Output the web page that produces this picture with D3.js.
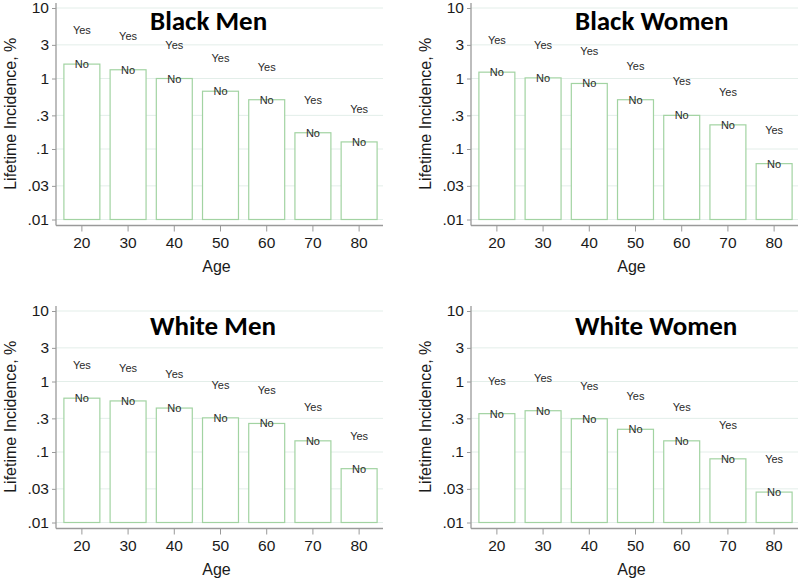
<!DOCTYPE html>
<html><head><meta charset="utf-8">
<script src="https://cdn.jsdelivr.net/npm/d3@7"></script>
<style>body{margin:0;background:#fff}svg{display:block}</style>
</head><body><svg id="c" width="800" height="578"></svg>
<script>
// ---- data ----
const ages = ["20","30","40","50","60","70","80"];
const tickValues = [10,3,1,0.3,0.1,0.03,0.01];
const tickLabels = ["10","3","1",".3",".1",".03",".01"];
const panelTitles = ["Black Men","Black Women","White Men","White Women"];
const blackMenNo    = [1.6, 1.33, 1.0, 0.66, 0.50, 0.17, 0.126];
const blackMenYes   = [4.8, 3.97, 3.0, 1.96, 1.46, 0.50, 0.364];
const blackWomenNo  = [1.23, 1.02, 0.85, 0.50, 0.30, 0.22, 0.062];
const blackWomenYes = [3.56, 3.0, 2.49, 1.48, 0.91, 0.65, 0.186];
const whiteMenNo    = [0.58, 0.53, 0.42, 0.305, 0.254, 0.144, 0.058];
const whiteMenYes   = [1.74, 1.56, 1.26, 0.90, 0.76, 0.44, 0.17];
const whiteWomenNo  = [0.35, 0.385, 0.296, 0.21, 0.144, 0.080, 0.027];
const whiteWomenYes = [1.03, 1.13, 0.86, 0.63, 0.43, 0.238, 0.079];
const noSeries  = [blackMenNo, blackWomenNo, whiteMenNo, whiteWomenNo];
const yesSeries = [blackMenYes, blackWomenYes, whiteMenYes, whiteWomenYes];
const yTitle = "Lifetime Incidence, %";
const xTitle = "Age";

// ---- layout ----
const layout = [
  {x0:56,  x1:385, yTop:8,   yBot:219.5, titleX:150, titleY:29.5},
  {x0:471, x1:800, yTop:8,   yBot:219.5, titleX:575, titleY:29.5},
  {x0:56,  x1:385, yTop:311, yBot:522.5, titleX:150, titleY:335},
  {x0:471, x1:800, yTop:311, yBot:522.5, titleX:575, titleY:335}
];
const svg = d3.select("#c");
const barStroke = "#a2d3a2", gridColor = "#e3eee9", axisColor = "#9a9a9a";
const sans = "'Liberation Sans', Arial, sans-serif";

panelTitles.forEach((title, i) => {
  const L = layout[i];
  const g = svg.append("g");
  const x = d3.scaleBand().domain(ages).range([L.x0, L.x1]).paddingInner(0.2).paddingOuter(0.16);
  const y = d3.scaleLog().domain([0.01, 10]).range([L.yBot, L.yTop]);
  const axisY = L.yBot + 6;

  // gridlines
  g.selectAll(".grid").data(tickValues).join("line")
    .attr("x1", L.x0).attr("x2", L.x1 - 2)
    .attr("y1", d => y(d)).attr("y2", d => y(d))
    .attr("stroke", gridColor).attr("stroke-width", 1);

  // bars
  g.selectAll(".bar").data(noSeries[i]).join("rect")
    .attr("x", (d, j) => x(ages[j]) + 0.5)
    .attr("width", x.bandwidth() - 1)
    .attr("y", d => y(d))
    .attr("height", d => y(0.01) - y(d))
    .attr("fill", "#fff").attr("stroke", barStroke).attr("stroke-width", 1.2);

  // y axis
  const ya = d3.axisLeft(y).tickValues(tickValues).tickFormat((d, k) => tickLabels[k]).tickSize(4).tickPadding(3);
  const yg = g.append("g").attr("transform", `translate(${L.x0},0)`).call(ya);
  yg.select(".domain").attr("d", `M0,${L.yTop - 5}V${axisY}`).attr("stroke", axisColor).attr("stroke-width", 1.3);
  yg.selectAll(".tick line").attr("stroke", axisColor);
  yg.selectAll(".tick text").attr("font-family", sans).attr("font-size", 15.5).attr("fill", "#1a1a1a");

  // x axis
  const xa = d3.axisBottom(x).tickSize(6).tickPadding(5).tickSizeOuter(0);
  const xg = g.append("g").attr("transform", `translate(0,${axisY})`).call(xa);
  xg.select(".domain").attr("d", `M${L.x0},0H${L.x1 - 2}`).attr("stroke", axisColor).attr("stroke-width", 1.3);
  xg.selectAll(".tick line").attr("stroke", axisColor);
  xg.selectAll(".tick text").attr("font-family", sans).attr("font-size", 15.5).attr("fill", "#1a1a1a");

  // axis titles
  g.append("text").attr("x", (L.x0 + L.x1) / 2 - 4).attr("y", axisY + 46)
    .attr("text-anchor", "middle").attr("font-family", sans)
    .attr("font-size", 16).attr("fill", "#1a1a1a").text(xTitle);
  g.append("text")
    .attr("transform", `translate(${L.x0 - 40},${(L.yTop + L.yBot) / 2}) rotate(-90)`)
    .attr("text-anchor", "middle").attr("font-family", sans)
    .attr("font-size", 16).attr("fill", "#1a1a1a").text(yTitle);

  // No labels at bar tops
  g.selectAll(".nolab").data(noSeries[i]).join("text")
    .attr("x", (d, j) => x(ages[j]) + x.bandwidth() / 2)
    .attr("y", d => y(d) + 4)
    .attr("text-anchor", "middle").attr("font-family", sans)
    .attr("font-size", 11).attr("fill", "#2a2a2a").text("No");
  // Yes labels
  g.selectAll(".yeslab").data(yesSeries[i]).join("text")
    .attr("x", (d, j) => x(ages[j]) + x.bandwidth() / 2)
    .attr("y", d => y(d) + 4)
    .attr("text-anchor", "middle").attr("font-family", sans)
    .attr("font-size", 11).attr("fill", "#2a2a2a").text("Yes");

  // panel title
  g.append("text").attr("x", L.titleX).attr("y", L.titleY)
    .attr("font-family", "Carlito, Lato, sans-serif").attr("font-weight", "bold")
    .attr("font-size", 27).attr("fill", "#000").text(title);
});
</script></body></html>
